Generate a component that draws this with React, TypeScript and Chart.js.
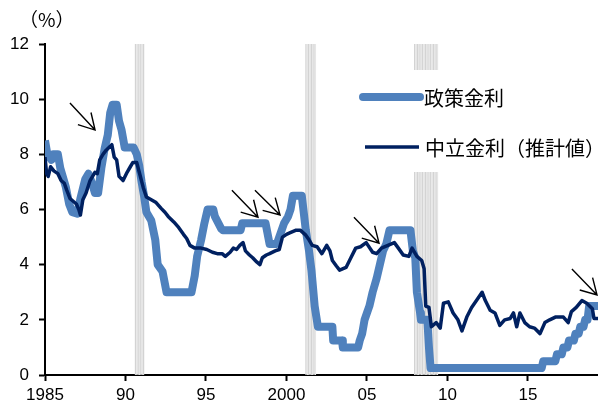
import React, { useEffect, useRef } from "react";
import { Chart, registerables } from "chart.js";

Chart.register(...registerables);

// ---- data ----
const policyYears = [
  1985.0, 1985.15, 1985.4, 1985.5, 1985.8, 1985.95, 1986.1, 1986.3, 1986.5, 1986.7,
  1987.0, 1987.2, 1987.5, 1987.7, 1987.95, 1988.1, 1988.3, 1988.5, 1988.7, 1988.9,
  1989.05, 1989.2, 1989.45, 1989.6, 1989.75, 1989.95, 1990.5, 1990.7, 1990.85, 1991.0,
  1991.15, 1991.3, 1991.6, 1991.85, 1992.0, 1992.3, 1992.55, 1994.1, 1994.3, 1994.45,
  1994.7, 1994.9, 1995.1, 1995.45, 1995.55, 1995.95, 1996.05, 1997.15, 1997.25, 1998.7,
  1998.8, 1998.95, 1999.4, 1999.55, 1999.85, 2000.1, 2000.25, 2000.4, 2000.95, 2001.05,
  2001.2, 2001.4, 2001.55, 2001.75, 2001.95, 2002.85, 2002.9, 2003.45, 2003.5, 2004.45,
  2004.55, 2004.7, 2004.85, 2005.0, 2005.15, 2005.35, 2005.6, 2005.8, 2006.0, 2006.2,
  2006.4, 2007.7, 2007.85, 2008.0, 2008.1, 2008.3, 2008.35, 2008.75, 2008.85, 2008.95,
  2015.85, 2015.95, 2016.7, 2016.8, 2017.1, 2017.2, 2017.45, 2017.55, 2017.85, 2017.95,
  2018.15, 2018.25, 2018.45, 2018.55, 2018.7, 2018.8, 2019.4,
];
const policyRates = [
  8.5, 8.0, 7.8, 8.0, 8.0, 7.5, 7.2, 6.8, 6.2, 5.9,
  5.85, 6.4, 7.1, 7.3, 6.9, 6.6, 6.6, 7.5, 8.2, 8.7,
  9.5, 9.8, 9.8, 9.2, 8.9, 8.25, 8.25, 8.0, 7.6, 7.0,
  6.5, 5.9, 5.6, 4.9, 4.0, 3.75, 3.0, 3.0, 3.6, 4.3,
  4.9, 5.5, 6.0, 6.0, 5.75, 5.3, 5.25, 5.25, 5.5, 5.5,
  5.2, 4.75, 4.75, 5.0, 5.5, 5.75, 6.0, 6.5, 6.5, 6.0,
  5.25, 4.5, 3.8, 2.5, 1.75, 1.75, 1.25, 1.25, 1.0, 1.0,
  1.25, 1.5, 2.0, 2.25, 2.5, 3.0, 3.5, 4.0, 4.5, 4.75,
  5.25, 5.25, 4.5, 4.25, 3.0, 2.25, 2.0, 2.0, 1.0, 0.25,
  0.25, 0.5, 0.5, 0.75, 0.75, 1.0, 1.0, 1.25, 1.25, 1.5,
  1.5, 1.75, 1.75, 2.0, 2.0, 2.5, 2.5,
];

const neutralYears = [
  1985.0, 1985.1, 1985.2, 1985.35, 1985.55, 1985.8, 1986.0, 1986.2, 1986.35, 1986.55,
  1986.75, 1986.95, 1987.1, 1987.2, 1987.35, 1987.55, 1987.8, 1988.1, 1988.25, 1988.4,
  1988.6, 1988.8, 1989.15, 1989.3, 1989.45, 1989.6, 1989.85, 1990.1, 1990.3, 1990.45,
  1990.7, 1990.9, 1991.1, 1991.3, 1991.6, 1991.9, 1992.2, 1992.45, 1992.65, 1993.0,
  1993.3, 1993.6, 1993.8, 1994.0, 1994.3, 1994.7, 1995.05, 1995.4, 1995.7, 1996.0,
  1996.2, 1996.5, 1996.7, 1996.9, 1997.1, 1997.3, 1997.45, 1997.7, 1997.9, 1998.15,
  1998.35, 1998.5, 1998.75, 1998.95, 1999.3, 1999.55, 1999.75, 2000.0, 2000.2, 2000.6,
  2000.85, 2001.2, 2001.4, 2001.6, 2001.9, 2002.2, 2002.5, 2002.7, 2002.85, 2003.1,
  2003.3, 2003.7, 2004.0, 2004.3, 2004.6, 2004.95, 2005.35, 2005.6, 2005.9, 2006.3,
  2006.7, 2006.95, 2007.25, 2007.6, 2007.8, 2008.1, 2008.4, 2008.55, 2008.65, 2008.85,
  2009.0, 2009.3, 2009.55, 2009.75, 2010.05, 2010.35, 2010.65, 2010.9, 2011.2, 2011.5,
  2011.8, 2012.15, 2012.35, 2012.65, 2012.95, 2013.25, 2013.55, 2013.9, 2014.1, 2014.3,
  2014.5, 2014.8, 2015.1, 2015.4, 2015.75, 2016.05, 2016.35, 2016.7, 2017.2, 2017.5,
  2017.7, 2018.0, 2018.35, 2018.65, 2019.0, 2019.1, 2019.4,
];
const neutralRates = [
  7.9, 7.3, 7.2, 7.55, 7.4, 7.3, 7.05, 6.95, 6.7, 6.4,
  6.3, 6.2, 6.0, 5.8, 6.35, 6.6, 7.05, 7.35, 7.3, 7.8,
  8.0, 8.15, 8.35, 7.9, 7.8, 7.2, 7.05, 7.35, 7.55, 7.7,
  7.7, 7.25, 6.8, 6.45, 6.35, 6.25, 6.05, 5.9, 5.75, 5.55,
  5.35, 5.1, 4.95, 4.7, 4.6, 4.6, 4.55, 4.45, 4.4, 4.4,
  4.3, 4.45, 4.6, 4.55, 4.7, 4.8, 4.5, 4.35, 4.25, 4.1,
  4.0, 4.25, 4.35, 4.4, 4.5, 4.55, 5.0, 5.1, 5.15, 5.25,
  5.25, 5.07, 4.9, 4.7, 4.65, 4.4, 4.7, 4.5, 4.15, 3.95,
  3.8, 3.9, 4.25, 4.6, 4.65, 4.8, 4.45, 4.4, 4.6, 4.7,
  4.8, 4.6, 4.35, 4.3, 4.6, 4.3, 4.15, 3.85, 2.5, 2.45,
  1.75, 1.9, 1.7, 2.6, 2.65, 2.25, 2.0, 1.6, 2.1, 2.45,
  2.7, 3.0, 2.7, 2.35, 2.25, 1.8, 2.0, 2.05, 2.25, 1.75,
  2.25, 1.9, 1.75, 1.7, 1.5, 1.9, 2.0, 2.1, 2.1, 1.9,
  2.3, 2.45, 2.7, 2.6, 2.4, 2.05, 2.05,
];

const xTickYears = [1985, 1990, 1995, 2000, 2005, 2010, 2015];
const xTickLabels = ["1985", "90", "95", "2000", "05", "10", "15"];
const yTickValues = [0, 2, 4, 6, 8, 10, 12];

const recessionStarts = [1990.58, 2001.17, 2007.92];
const recessionEnds = [1991.17, 2001.83, 2009.42];

const arrowFromYears = [1986.55, 1996.61, 1998.04, 2004.19, 2017.73];
const arrowFromValues = [9.86, 6.7, 6.7, 5.72, 3.84];
const arrowToYears = [1988.11, 1998.23, 1999.6, 2005.75, 2019.29];
const arrowToValues = [8.88, 5.72, 5.8, 4.78, 2.9];

const seriesNames = ["政策金利", "中立金利（推計値）"];
const unitLabel = "（%）";

const POLICY_COLOR = "#4F81BD";
const NEUTRAL_COLOR = "#002060";
const CJK_FONT = '"Noto Sans CJK JP", "Noto Sans", sans-serif';
const NUM_FONT = '"Liberation Sans", Arial, sans-serif';

const overlayPlugin = {
  id: "overlay",
  beforeDatasetsDraw(chart: any) {
    const { ctx, chartArea: a, scales } = chart;
    const xs = scales.x;
    ctx.save();
    for (let r = 0; r < recessionStarts.length; r++) {
      const s = recessionStarts[r];
      const e = recessionEnds[r];
      const n = Math.max(1, Math.round((e - s) * 12));
      for (let i = 0; i < n; i++) {
        const x0 = xs.getPixelForValue(s + i / 12);
        const x1 = xs.getPixelForValue(s + (i + 1) / 12);
        ctx.fillStyle = i % 2 === 0 ? "#D3D3D3" : "#E6E6E6";
        ctx.fillRect(x0, a.top, x1 - x0, a.bottom - a.top);
      }
    }
    ctx.fillStyle = "#FFFFFF";
    ctx.fillRect(a.left + 307, a.top + 26, a.right - (a.left + 307), 102);
    ctx.restore();
  },
  afterDatasetsDraw(chart: any) {
    const { ctx, chartArea: a, scales } = chart;
    const xs = scales.x;
    const ys = scales.y;
    ctx.save();
    ctx.beginPath();
    ctx.rect(a.left, 0, a.right - a.left, a.bottom);
    ctx.clip();
    ctx.strokeStyle = "#000";
    ctx.lineWidth = 1.4;
    for (let i = 0; i < arrowFromYears.length; i++) {
      const x0 = xs.getPixelForValue(arrowFromYears[i]);
      const y0 = ys.getPixelForValue(arrowFromValues[i]);
      const x1 = xs.getPixelForValue(arrowToYears[i]);
      const y1 = ys.getPixelForValue(arrowToValues[i]);
      const ang = Math.atan2(y1 - y0, x1 - x0);
      const L = 18;
      const w = 0.52;
      ctx.beginPath();
      ctx.moveTo(x0, y0);
      ctx.lineTo(x1, y1);
      ctx.moveTo(x1 - L * Math.cos(ang - w), y1 - L * Math.sin(ang - w));
      ctx.lineTo(x1, y1);
      ctx.lineTo(x1 - L * Math.cos(ang + w), y1 - L * Math.sin(ang + w));
      ctx.stroke();
    }
    ctx.restore();

    ctx.save();
    ctx.lineCap = "round";
    ctx.strokeStyle = POLICY_COLOR;
    ctx.lineWidth = 8;
    ctx.beginPath();
    ctx.moveTo(a.left + 318, a.top + 53);
    ctx.lineTo(a.left + 375, a.top + 53);
    ctx.stroke();
    ctx.strokeStyle = NEUTRAL_COLOR;
    ctx.lineWidth = 3.5;
    ctx.lineCap = "butt";
    ctx.beginPath();
    ctx.moveTo(a.left + 320, a.top + 103);
    ctx.lineTo(a.left + 374, a.top + 103);
    ctx.stroke();
    ctx.fillStyle = "#000";
    ctx.font = `20px ${CJK_FONT}`;
    ctx.textAlign = "left";
    ctx.textBaseline = "middle";
    ctx.fillText(seriesNames[0], a.left + 379, a.top + 54);
    ctx.fillText(seriesNames[1], a.left + 380, a.top + 104);
    ctx.restore();
  },
  afterDraw(chart: any) {
    const { ctx } = chart;
    ctx.save();
    ctx.fillStyle = "#000";
    ctx.font = `19px ${CJK_FONT}`;
    ctx.textAlign = "left";
    ctx.textBaseline = "middle";
    ctx.fillText(unitLabel, 19, 20);
    ctx.restore();
  },
};

export default function App() {
  const canvasRef = useRef<HTMLCanvasElement | null>(null);

  useEffect(() => {
    const canvas = canvasRef.current;
    if (!canvas) return;
    const chart = new Chart(canvas, {
      type: "line",
      data: {
        datasets: [
          {
            label: seriesNames[1],
            data: neutralYears.map((x, i) => ({ x, y: neutralRates[i] })),
            borderColor: NEUTRAL_COLOR,
            borderWidth: 3.5,
            pointRadius: 0,
            tension: 0,
            borderJoinStyle: "round",
            fill: false,
          },
          {
            label: seriesNames[0],
            data: policyYears.map((x, i) => ({ x, y: policyRates[i] })),
            borderColor: POLICY_COLOR,
            borderWidth: 8,
            pointRadius: 0,
            tension: 0,
            borderJoinStyle: "round",
            fill: false,
          },
        ],
      },
      options: {
        animation: false,
        responsive: false,
        devicePixelRatio: 1,
        layout: { padding: { top: 44, right: 0, left: 0, bottom: 0 } },
        plugins: {
          legend: { display: false },
          tooltip: { enabled: false },
          title: { display: false },
        },
        scales: {
          x: {
            type: "linear",
            min: 1985,
            max: 2019.35,
            afterBuildTicks: (scale: any) => {
              scale.ticks = xTickYears.map((v) => ({ value: v }));
            },
            afterFit: (scale: any) => {
              scale.height = 33;
            },
            grid: {
              drawOnChartArea: false,
              drawTicks: true,
              tickLength: 6,
              tickWidth: 2,
              tickColor: "#000",
            },
            border: { color: "#000", width: 2 },
            ticks: {
              autoSkip: false,
              maxRotation: 0,
              padding: 4,
              color: "#000",
              font: { family: NUM_FONT, size: 17 },
              callback: (v: any) => {
                const idx = xTickYears.indexOf(Number(v));
                return idx >= 0 ? xTickLabels[idx] : "";
              },
            },
          },
          y: {
            type: "linear",
            min: 0,
            max: 12,
            afterBuildTicks: (scale: any) => {
              scale.ticks = yTickValues.map((v) => ({ value: v }));
            },
            afterFit: (scale: any) => {
              scale.width = 45;
            },
            grid: {
              drawOnChartArea: false,
              drawTicks: true,
              tickLength: 6,
              tickWidth: 2,
              tickColor: "#000",
            },
            border: { color: "#000", width: 2 },
            ticks: {
              padding: 10,
              color: "#000",
              font: { family: NUM_FONT, size: 17 },
            },
          },
        },
      },
      plugins: [overlayPlugin],
    } as any);
    return () => chart.destroy();
  }, []);

  return (
    <div style={{ position: "absolute", left: 0, top: 0, width: 598, height: 408, background: "#fff" }}>
      <canvas ref={canvasRef} width={598} height={408} style={{ display: "block" }} />
    </div>
  );
}
